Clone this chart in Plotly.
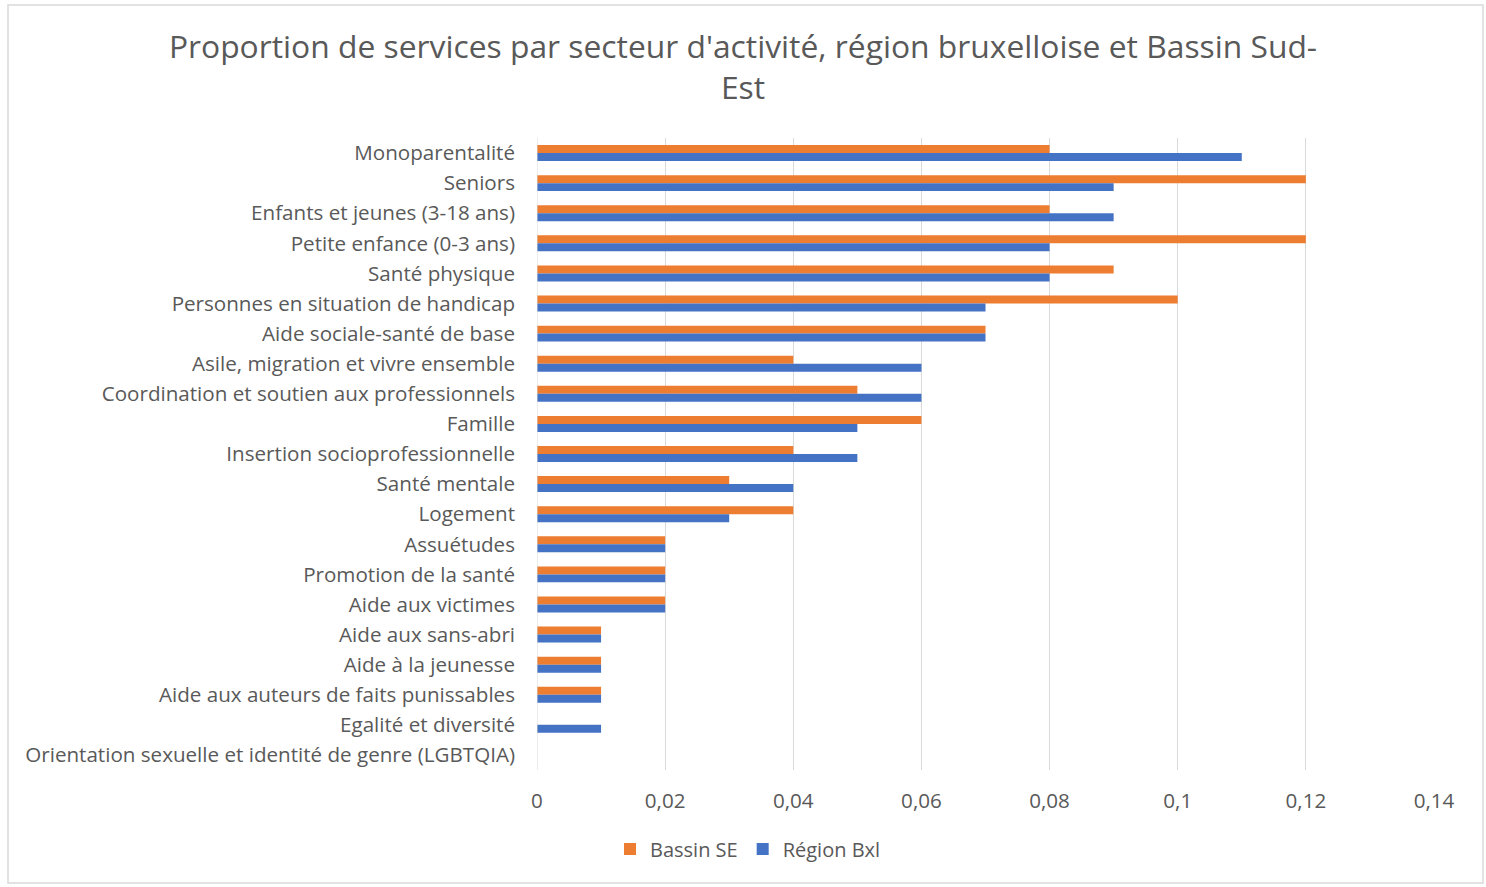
import plotly.graph_objects as go

# Secteurs d'activité (ordre d'affichage, de haut en bas)
secteurs = [
    "Monoparentalité",
    "Seniors",
    "Enfants et jeunes (3-18 ans)",
    "Petite enfance (0-3 ans)",
    "Santé physique",
    "Personnes en situation de handicap",
    "Aide sociale-santé de base",
    "Asile, migration et vivre ensemble",
    "Coordination et soutien aux professionnels",
    "Famille",
    "Insertion socioprofessionnelle",
    "Santé mentale",
    "Logement",
    "Assuétudes",
    "Promotion de la santé",
    "Aide aux victimes",
    "Aide aux sans-abri",
    "Aide à la jeunesse",
    "Aide aux auteurs de faits punissables",
    "Egalité et diversité",
    "Orientation sexuelle et identité de genre (LGBTQIA)",
]

bassin_se = [0.08, 0.12, 0.08, 0.12, 0.09, 0.10, 0.07, 0.04, 0.05, 0.06,
             0.04, 0.03, 0.04, 0.02, 0.02, 0.02, 0.01, 0.01, 0.01, 0.0, 0.0]
region_bxl = [0.11, 0.09, 0.09, 0.08, 0.08, 0.07, 0.07, 0.06, 0.06, 0.05,
              0.05, 0.04, 0.03, 0.02, 0.02, 0.02, 0.01, 0.01, 0.01, 0.01, 0.0]

x_ticks = [0, 0.02, 0.04, 0.06, 0.08, 0.1, 0.12, 0.14]

FONT = "Open Sans"
GREY = "#595959"
LABEL_SIZE = 20.6

fig = go.Figure()
fig.add_trace(go.Bar(name="Bassin SE", y=secteurs, x=bassin_se, orientation="h",
                     marker=dict(color="#ED7D31", line=dict(width=0))))
fig.add_trace(go.Bar(name="Région Bxl", y=secteurs, x=region_bxl, orientation="h",
                     marker=dict(color="#4472C4", line=dict(width=0))))

W, H = 1486, 887
L, R, T, B = 537, 52, 138, 117
pw, ph = W - L - R, H - T - B

def px_x(p):
    return (p - L) / pw

def px_y(p):
    return (H - B - p) / ph

fig.update_layout(
    width=W, height=H,
    margin=dict(l=L, r=R, t=T, b=B),
    paper_bgcolor="white", plot_bgcolor="white",
    separators=", ",
    barmode="group", bargap=0.47, bargroupgap=0,
    font=dict(family=FONT, color=GREY),
    title=dict(
        text="Proportion de services par secteur d'activité, région bruxelloise et Bassin Sud-<br>Est",
        x=0.5, xanchor="center", y=1 - 58 / H, yanchor="middle", yref="container",
        font=dict(family=FONT, size=31.8, color=GREY),
    ),
    xaxis=dict(
        range=[0, 0.14], tickvals=x_ticks, tickformat=".2~f",
        showgrid=True, gridcolor="#D9D9D9", gridwidth=1,
        zeroline=False, showline=False, ticks="",
        tickfont=dict(family=FONT, size=LABEL_SIZE, color=GREY),
        ticklabelstandoff=16,
    ),
    yaxis=dict(
        autorange="reversed", showgrid=False, zeroline=False,
        showline=False, ticks="",
        tickfont=dict(family=FONT, size=LABEL_SIZE, color=GREY),
        ticklabelstandoff=21,
    ),
    legend=dict(
        orientation="h", x=px_x(748), xanchor="center",
        y=px_y(849), yanchor="middle",
        font=dict(family=FONT, size=LABEL_SIZE - 0.6, color=GREY),
        traceorder="normal", itemwidth=30,
    ),
    shapes=[
        dict(type="rect", xref="paper", yref="paper",
             x0=px_x(8), x1=px_x(1483), y0=px_y(883), y1=px_y(5),
             line=dict(color="#D9D9D9", width=1.5), fillcolor="rgba(0,0,0,0)",
             layer="below"),
        dict(type="line", xref="x", yref="paper", x0=0, x1=0, y0=0, y1=1,
             line=dict(color="#D9D9D9", width=1)),
    ],
)

fig.write_html("out.html")
